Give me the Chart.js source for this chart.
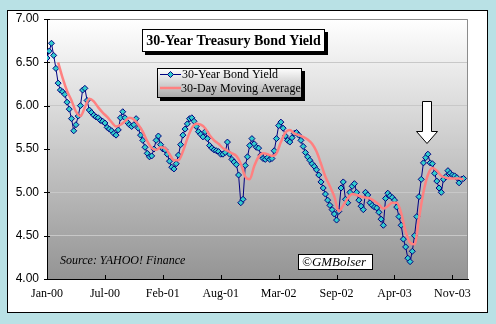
<!DOCTYPE html>
<html>
<head>
<meta charset="utf-8">
<script src="https://cdn.jsdelivr.net/npm/chart.js@4.4.0/dist/chart.umd.min.js"></script>
<style>
  html, body { margin: 0; padding: 0; background: #b9e1e5; }
  #wrap { position: relative; width: 496px; height: 324px; }
</style>
</head>
<body>
<div id="wrap"><canvas id="bondChart" width="496" height="324"></canvas></div>
<script>
// axis labels, one every 26 weeks
const tickLabels = ["Jan-00", "Jul-00", "Feb-01", "Aug-01", "Mar-02", "Sep-02", "Apr-03", "Nov-03"];
const weeksPerTick = 26;
const yTicks = [4.00, 4.50, 5.00, 5.50, 6.00, 6.50, 7.00];

// 30-year bond yield, weekly closes from Jan 2000
const weeklyYield = [
  6.55, 6.63, 6.72, 6.58, 6.43, 6.26, 6.18, 6.16, 6.13, 6.04,
  5.96, 5.85, 5.71, 5.78, 5.88, 6.00, 6.18, 6.20, 6.06, 5.95,
  5.92, 5.89, 5.87, 5.86, 5.83, 5.82, 5.80, 5.75, 5.73, 5.71,
  5.68, 5.66, 5.72, 5.86, 5.93, 5.86, 5.81, 5.78, 5.76, 5.78,
  5.85, 5.74, 5.66, 5.60, 5.52, 5.45, 5.41, 5.42, 5.50, 5.60,
  5.65, 5.55, 5.50, 5.49, 5.44, 5.36, 5.29, 5.27, 5.33, 5.43,
  5.55, 5.66, 5.73, 5.79, 5.85, 5.86, 5.82, 5.76, 5.70, 5.67,
  5.64, 5.70, 5.62, 5.54, 5.51, 5.49, 5.48, 5.47, 5.44, 5.44,
  5.46, 5.58, 5.44, 5.38, 5.35, 5.32, 5.20, 4.88, 4.92, 5.31,
  5.41, 5.54, 5.62, 5.56, 5.52, 5.51, 5.43, 5.39, 5.38, 5.40,
  5.38, 5.39, 5.48, 5.62, 5.77, 5.81, 5.74, 5.65, 5.60, 5.58,
  5.63, 5.68, 5.69, 5.66, 5.60, 5.53, 5.46, 5.41, 5.37, 5.33,
  5.30, 5.26, 5.20, 5.12, 5.05, 4.98, 4.91, 4.85, 4.80, 4.75,
  4.68, 4.78, 5.05, 5.12, 4.92, 4.88, 5.00, 5.07, 5.10, 5.00,
  4.91, 4.84, 4.80, 5.00, 4.97, 4.88, 4.85, 4.83, 4.82, 4.77,
  4.69, 4.62, 4.93, 4.99, 4.96, 4.94, 4.91, 4.83, 4.72, 4.62,
  4.46, 4.37, 4.24, 4.20, 4.32, 4.50, 4.72, 4.95, 5.15, 5.34,
  5.40, 5.44, 5.34, 5.33, 5.22, 5.13, 5.05, 5.00, 5.15, 5.18,
  5.25, 5.22, 5.20, 5.19, 5.17, 5.11, 5.15, 5.16
];

// 30-day moving average, read every second week starting at week 5
const avgFirstWeek = 5;
const avgEveryWeeks = 2;
const movingAvg = [
  6.50, 6.32, 6.17, 6.06, 5.93, 5.88, 5.98, 6.08, 6.05, 5.98,
  5.92, 5.87, 5.81, 5.76, 5.78, 5.82, 5.86, 5.84, 5.78, 5.70,
  5.59, 5.51, 5.49, 5.52, 5.51, 5.44, 5.37, 5.37, 5.47, 5.62,
  5.74, 5.79, 5.78, 5.74, 5.66, 5.60, 5.56, 5.51, 5.48, 5.45,
  5.42, 5.33, 5.18, 5.15, 5.30, 5.41, 5.45, 5.44, 5.42, 5.45,
  5.58, 5.69, 5.72, 5.68, 5.66, 5.64, 5.61, 5.56, 5.47, 5.33,
  5.18, 5.07, 4.95, 4.78, 4.85, 4.93, 4.98, 4.97, 4.95, 4.94,
  4.93, 4.90, 4.86, 4.81, 4.84, 4.88, 4.88, 4.76, 4.55, 4.42,
  4.40, 4.70, 5.00, 5.20, 5.28, 5.25, 5.19, 5.17, 5.16, 5.16,
  5.16, 5.15
];

const yieldPoints = weeklyYield.map((v, i) => ({ x: i, y: v }));
const avgPoints = movingAvg.map((v, k) => ({ x: avgFirstWeek + k * avgEveryWeeks, y: v }));

// white panel, plot gradient, title, legend, notes
const decorations = {
  id: "decorations",
  beforeDraw(chart) {
    const ctx = chart.ctx;
    const a = chart.chartArea;
    ctx.save();
    ctx.fillStyle = "#ffffff";
    ctx.fillRect(7, 10, 481, 303);
    ctx.strokeStyle = "#000000";
    ctx.lineWidth = 1;
    ctx.strokeRect(7.5, 10.5, 480, 302);

    const g = ctx.createLinearGradient(0, a.top, 0, a.bottom);
    g.addColorStop(0, "#ffffff");
    g.addColorStop(1, "#949494");
    ctx.fillStyle = g;
    ctx.fillRect(a.left, a.top, a.right - a.left, a.bottom - a.top);
    ctx.restore();
  },
  afterDraw(chart) {
    const ctx = chart.ctx;
    const a = chart.chartArea;
    const xs = chart.scales.x;
    const ys = chart.scales.y;
    ctx.save();

    // plot frame top/right
    ctx.strokeStyle = "#8c8c8c";
    ctx.lineWidth = 1;
    ctx.beginPath();
    ctx.moveTo(a.left, a.top + 0.5);
    ctx.lineTo(a.right - 0.5, a.top + 0.5);
    ctx.lineTo(a.right - 0.5, a.bottom);
    ctx.stroke();

    // tick marks
    ctx.strokeStyle = "#000000";
    ctx.beginPath();
    tickLabels.forEach((_, k) => {
      const px = Math.round(xs.getPixelForValue(k * weeksPerTick)) + 0.5;
      ctx.moveTo(px, a.bottom);
      ctx.lineTo(px, a.bottom - 4);
    });
    yTicks.forEach(v => {
      const py = Math.round(ys.getPixelForValue(v)) + 0.5;
      ctx.moveTo(a.left - 3, py);
      ctx.lineTo(a.left + 3, py);
    });
    ctx.stroke();

    // title box
    ctx.fillStyle = "#000000";
    ctx.fillRect(145, 32, 183, 23);
    ctx.fillStyle = "#ffffff";
    ctx.fillRect(142, 29, 183, 23);
    ctx.strokeRect(142.5, 29.5, 182, 22);
    ctx.fillStyle = "#000000";
    ctx.font = "bold 14px 'Liberation Serif'";
    ctx.textAlign = "center";
    ctx.textBaseline = "middle";
    ctx.fillText("30-Year Treasury Bond Yield", 233.5, 41);

    // legend box
    ctx.fillStyle = "#000000";
    ctx.fillRect(160, 71, 145, 30);
    const lg = ctx.createLinearGradient(0, 68, 0, 98);
    lg.addColorStop(0, "#ffffff");
    lg.addColorStop(1, "#a8a8a8");
    ctx.fillStyle = lg;
    ctx.fillRect(157, 68, 145, 30);
    ctx.strokeRect(157.5, 68.5, 144, 29);

    ctx.strokeStyle = "#000080";
    ctx.lineWidth = 1;
    ctx.beginPath();
    ctx.moveTo(160, 74.5);
    ctx.lineTo(181, 74.5);
    ctx.stroke();
    ctx.beginPath();
    ctx.moveTo(170.5, 71.5);
    ctx.lineTo(173.5, 74.5);
    ctx.lineTo(170.5, 77.5);
    ctx.lineTo(167.5, 74.5);
    ctx.closePath();
    ctx.fillStyle = "#33cccc";
    ctx.fill();
    ctx.stroke();

    ctx.strokeStyle = "#ff8080";
    ctx.lineWidth = 2.5;
    ctx.beginPath();
    ctx.moveTo(160, 88);
    ctx.lineTo(181, 88);
    ctx.stroke();

    ctx.fillStyle = "#000000";
    ctx.font = "12px 'Liberation Serif'";
    ctx.textAlign = "left";
    ctx.fillText("30-Year Bond Yield", 182, 74.5);
    ctx.fillText("30-Day Moving Average", 181, 88.5);

    // arrow over the summer 2003 spike
    ctx.beginPath();
    ctx.moveTo(422.5, 101.5);
    ctx.lineTo(431.5, 101.5);
    ctx.lineTo(431.5, 131.5);
    ctx.lineTo(437.5, 131.5);
    ctx.lineTo(427, 143.5);
    ctx.lineTo(416.5, 131.5);
    ctx.lineTo(422.5, 131.5);
    ctx.closePath();
    ctx.fillStyle = "#ffffff";
    ctx.fill();
    ctx.strokeStyle = "#000000";
    ctx.lineWidth = 1;
    ctx.stroke();

    // source note
    ctx.fillStyle = "#000000";
    ctx.font = "italic 12px 'Liberation Serif'";
    ctx.fillText("Source: YAHOO! Finance", 60, 261);

    // copyright box
    ctx.fillStyle = "#ffffff";
    ctx.fillRect(298, 254, 75, 16);
    ctx.strokeRect(298.5, 254.5, 74, 15);
    ctx.fillStyle = "#000000";
    ctx.font = "italic 13px 'Liberation Serif'";
    ctx.fillText("\u00A9GMBolser", 302, 262.5);

    ctx.restore();
  }
};

new Chart(document.getElementById("bondChart"), {
  type: "line",
  data: {
    datasets: [
      {
        label: "30-Year Bond Yield",
        data: yieldPoints,
        borderColor: "#000080",
        borderWidth: 1,
        pointStyle: "rectRot",
        pointRadius: 3,
        pointBackgroundColor: "#33cccc",
        pointBorderColor: "#000080",
        pointBorderWidth: 1,
        order: 2
      },
      {
        label: "30-Day Moving Average",
        data: avgPoints,
        borderColor: "#ff8080",
        borderWidth: 2.5,
        pointRadius: 0,
        cubicInterpolationMode: "monotone",
        order: 1
      }
    ]
  },
  options: {
    responsive: false,
    animation: false,
    layout: { padding: { top: 19, right: 28, left: 0, bottom: 0 } },
    plugins: { legend: { display: false }, tooltip: { enabled: false } },
    scales: {
      x: {
        type: "linear",
        min: 0,
        max: 189,
        afterBuildTicks: s => { s.ticks = tickLabels.map((_, k) => ({ value: k * weeksPerTick })); },
        afterFit: s => { s.height = 45; },
        ticks: {
          autoSkip: false,
          maxRotation: 0,
          padding: 8,
          color: "#000000",
          font: { family: "'Liberation Serif'", size: 12 },
          callback: v => tickLabels[Math.round(v / weeksPerTick)]
        },
        grid: { display: false, drawTicks: false },
        border: { color: "#000000", width: 1 }
      },
      y: {
        min: 4,
        max: 7,
        afterBuildTicks: s => { s.ticks = yTicks.map(v => ({ value: v })); },
        afterFit: s => { s.width = 47; },
        ticks: {
          padding: 8,
          color: "#000000",
          font: { family: "'Liberation Sans'", size: 12 },
          callback: v => Number(v).toFixed(2)
        },
        grid: { color: "#c8c8c8", drawTicks: false },
        border: { color: "#000000", width: 1 }
      }
    }
  },
  plugins: [decorations]
});
</script>
</body>
</html>
